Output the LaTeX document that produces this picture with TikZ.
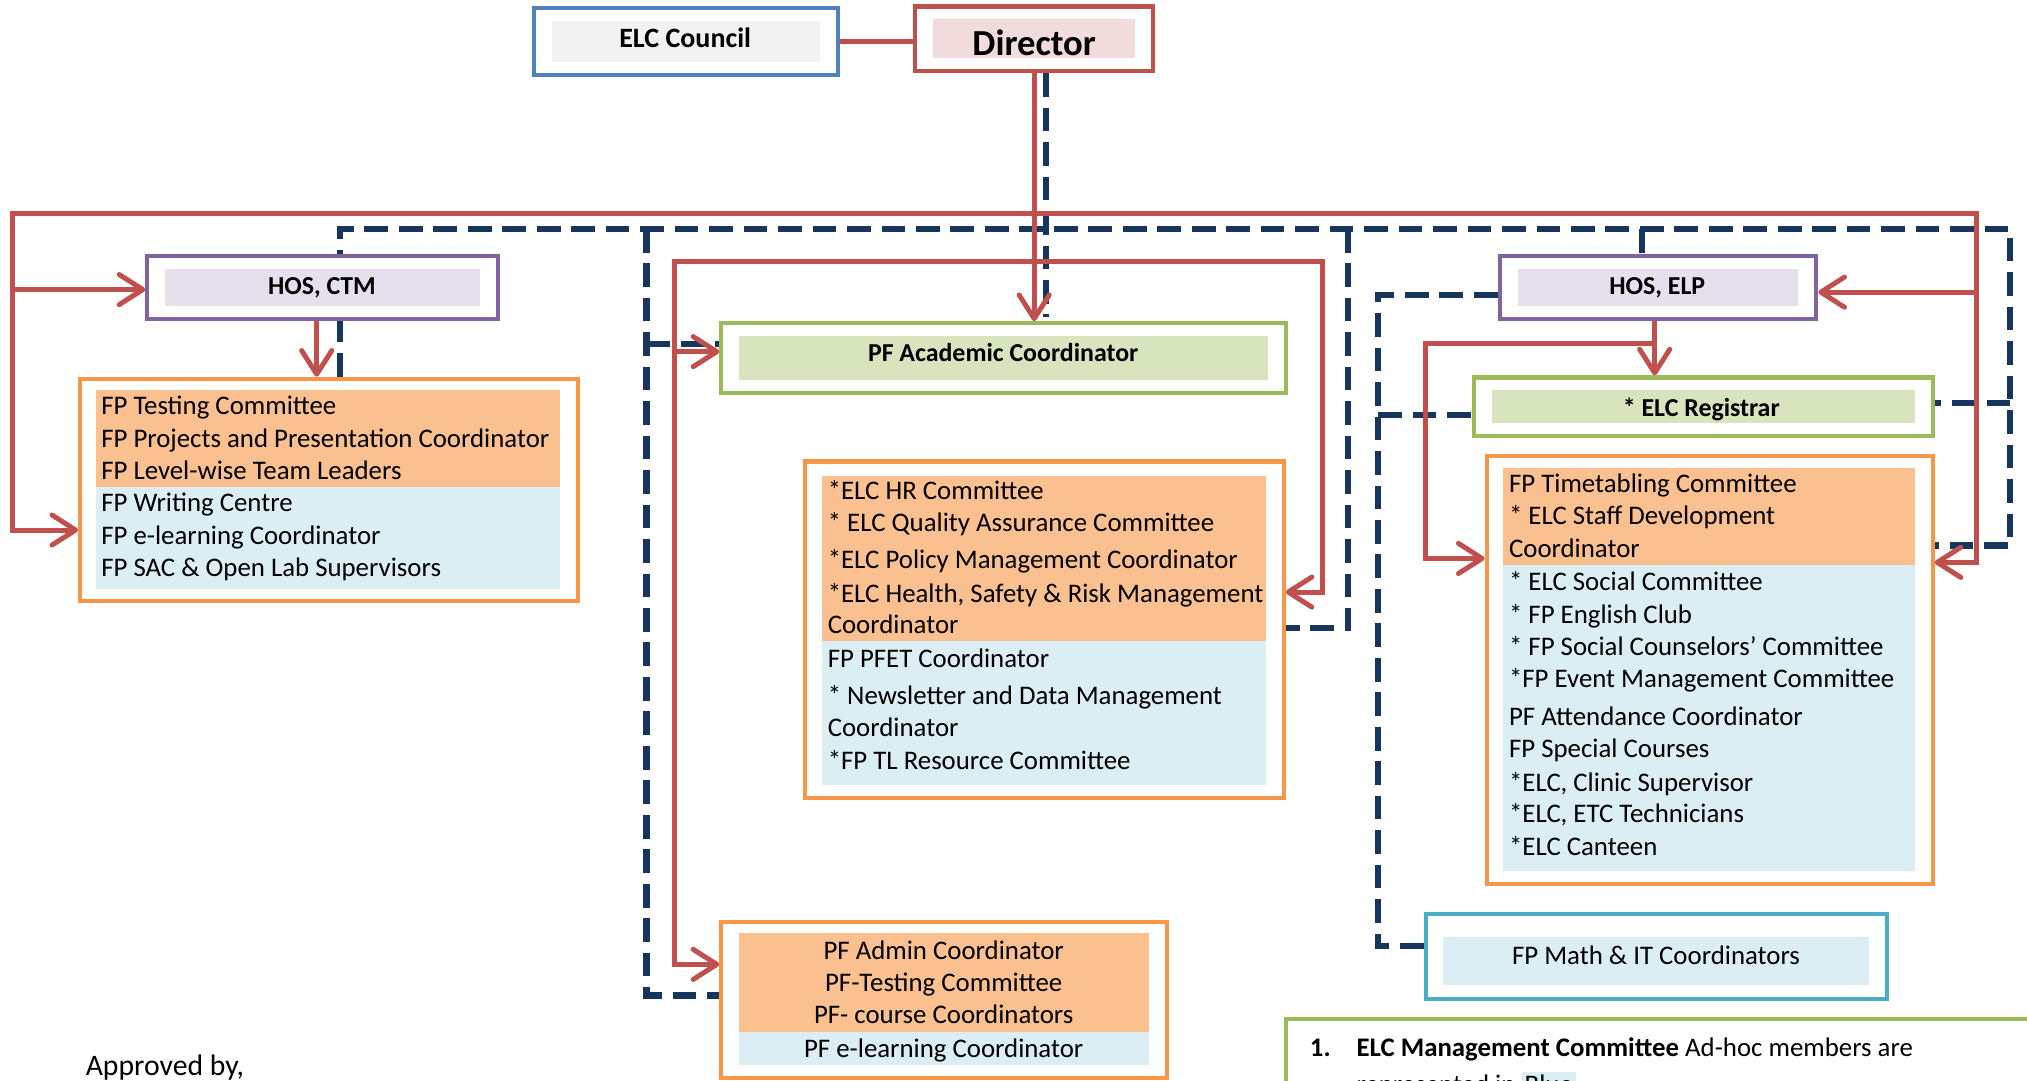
\documentclass[tikz,border=0pt]{standalone}
\usepackage{fontspec}
\setmainfont{Carlito}
\usetikzlibrary{arrows.meta,fit,backgrounds,calc}
\pgfdeclarelayer{bottom}
\pgfsetlayers{bottom,background,main}
\definecolor{cBlue}{HTML}{4F81BD}
\definecolor{cGray}{HTML}{F2F2F2}
\definecolor{cRed}{HTML}{C0504D}
\definecolor{cPink}{HTML}{F2DCDB}
\definecolor{cPurple}{HTML}{8064A2}
\definecolor{cLav}{HTML}{E5E0EC}
\definecolor{cGreen}{HTML}{9BBB59}
\definecolor{cLGreen}{HTML}{D7E4BD}
\definecolor{cOrange}{HTML}{F79646}
\definecolor{cPeach}{HTML}{FAC090}
\definecolor{cLBlue}{HTML}{DBEEF4}
\definecolor{cNavy}{HTML}{17365D}
\definecolor{cCyan}{HTML}{4BACC6}
\begin{document}
\begin{tikzpicture}[x=0.6pt,y=-0.6pt,
  box/.style={inner sep=0pt, line width=1.9pt, fill=white},
  band/.style={inner sep=0pt, draw=none},
  redln/.style={draw=cRed, line width=2.3pt},
  redarr/.style={redln, -{Straight Barb[length=11pt,width=14pt,round]}},
  navy/.style={draw=cNavy, line width=2.9pt, dash pattern=on 11pt off 5pt},
  ln/.style={anchor=base west, inner sep=0pt, font=\fontsize{12.45}{15}\selectfont},
  lnc/.style={ln, anchor=base},
  ttl/.style={anchor=base, inner sep=0pt, font=\fontsize{12}{15}\selectfont\bfseries},
]
\useasboundingbox (0,0) rectangle (1568,836);
\begin{pgfonlayer}{bottom}
\fill[white] (0,0) rectangle (1568,836);
\end{pgfonlayer}

% ---------- boxes ----------
\node[box, draw=cBlue, fit={(413,6)(648,58)}] (council) {};
\node[band, fill=cGray, fit={(427,16)(634,48)}] (councilbg) {};
\node[ttl, font=\fontsize{13}{15}\selectfont\bfseries] (councilt) at (530,37) {ELC Council};

\node[box, draw=cRed, fit={(708,5)(892,55)}] (director) {};
\node[band, fill=cPink, fit={(722,15)(878,45)}] (directorbg) {};
\node[ttl, font=\fontsize{17}{20}\selectfont\bfseries] (directort) at (800,43) {Director};

\node[box, draw=cPurple, fit={(114,198)(385,247)}] (ctm) {};
\node[band, fill=cLav, fit={(128,208)(371,237)}] (ctmbg) {};
\node[ttl] (ctmt) at (249,228) {HOS, CTM};

\node[box, draw=cOrange, fit={(62,293)(447,465)}] (fpl) {};
\node[band, fill=cPeach, fit={(74,302)(433,377)}] (fplA) {};
\node[band, fill=cLBlue, fit={(74,377)(433,456)}] (fplB) {};
\node[ln] (fpl1) at (78,321) {FP Testing Committee};
\node[ln] (fpl2) at (78,346) {FP Projects and Presentation Coordinator};
\node[ln] (fpl3) at (78,371) {FP Level-wise Team Leaders};
\node[ln] (fpl4) at (78,396) {FP Writing Centre};
\node[ln] (fpl5) at (78,421) {FP e-learning Coordinator};
\node[ln] (fpl6) at (78,446) {FP SAC \& Open Lab Supervisors};

\node[box, draw=cGreen, fit={(558,250)(995,304)}] (pfa) {};
\node[band, fill=cLGreen, fit={(572,260)(981,294)}] (pfabg) {};
\node[ttl] (pfat) at (776,280) {PF Academic Coordinator};

\node[box, draw=cOrange, fit={(623,357)(993,617)}] (cen) {};
\node[band, fill=cPeach, fit={(636,368)(979,496)}] (cenA) {};
\node[band, fill=cLBlue, fit={(636,496)(979,607)}] (cenB) {};
\node[ln] (cen1) at (640,386) {*ELC HR Committee};
\node[ln] (cen2) at (640,411) {* ELC Quality Assurance Committee};
\node[ln] (cen3) at (640,440) {*ELC Policy Management Coordinator};
\node[ln] (cen4) at (640,466) {*ELC Health, Safety \& Risk Management};
\node[ln] (cen5) at (640,490) {Coordinator};
\node[ln] (cen6) at (640,516) {FP PFET Coordinator};
\node[ln] (cen7) at (640,545) {* Newsletter and Data Management};
\node[ln] (cen8) at (640,570) {Coordinator};
\node[ln] (cen9) at (640,595) {*FP TL Resource Committee};

\node[box, draw=cOrange, fit={(558,713)(903,834)}] (adm) {};
\node[band, fill=cPeach, fit={(572,722)(889,798)}] (admA) {};
\node[band, fill=cLBlue, fit={(572,798)(889,824)}] (admB) {};
\node[lnc] (adm1) at (730,742) {PF Admin Coordinator};
\node[lnc] (adm2) at (730,767) {PF-Testing Committee};
\node[lnc] (adm3) at (730,792) {PF- course Coordinators};
\node[lnc] (adm4) at (730,818) {PF e-learning Coordinator};

\node[box, draw=cPurple, fit={(1160,198)(1405,247)}] (elp) {};
\node[band, fill=cLav, fit={(1174,208)(1391,237)}] (elpbg) {};
\node[ttl] (elpt) at (1282,228) {HOS, ELP};

\node[box, draw=cGreen, fit={(1140,292)(1495,337)}] (reg) {};
\node[band, fill=cLGreen, fit={(1154,302)(1481,327)}] (regbg) {};
\node[ttl] (regt) at (1316,322) {* ELC Registrar};

\node[box, draw=cOrange, fit={(1150,353)(1495,684)}] (rgt) {};
\node[band, fill=cPeach, fit={(1163,362)(1481,437)}] (rgtA) {};
\node[band, fill=cLBlue, fit={(1163,437)(1481,674)}] (rgtB) {};
\node[ln] (r1) at (1167,381) {FP Timetabling Committee};
\node[ln] (r2) at (1167,406) {* ELC Staff Development};
\node[ln] (r3) at (1167,431) {Coordinator};
\node[ln] (r4) at (1167,457) {* ELC Social Committee};
\node[ln] (r5) at (1167,482) {* FP English Club};
\node[ln] (r6) at (1167,507) {* FP Social Counselors’ Committee};
\node[ln] (r7) at (1167,532) {*FP Event Management Committee};
\node[ln] (r8) at (1167,561) {PF Attendance Coordinator};
\node[ln] (r9) at (1167,586) {FP Special Courses};
\node[ln] (r10) at (1167,612) {*ELC, Clinic Supervisor};
\node[ln] (r11) at (1167,636) {*ELC, ETC Technicians};
\node[ln] (r12) at (1167,662) {*ELC Canteen};

\node[box, draw=cCyan, fit={(1103,707)(1460,773)}] (math) {};
\node[band, fill=cLBlue, fit={(1116,725)(1446,762)}] (mathbg) {};
\node[lnc] (matht) at (1281,746) {FP Math \& IT Coordinators};

\node[ln, font=\fontsize{13.8}{16}\selectfont] (appr) at (66,832) {Approved by,};

\begin{scope}
\clip (0,0) rectangle (1568,836);
\node[box, draw=cGreen, fit={(995,788)(1620,900)}] (note) {};
\node[ln, font=\fontsize{12.45}{15}\selectfont\bfseries] (note1) at (1013,817) {1.};
\node[ln] (note2) at (1049,817) {\textbf{ELC Management Committee} Ad-hoc members are};
\node[ln] (note3) at (1049,846) {represented in \setlength{\fboxsep}{1.5pt}\colorbox{cLBlue}{Blue}};
\end{scope}

% ---------- connectors ----------
\begin{pgfonlayer}{background}
\coordinate (dtop) at (809,245);
\coordinate (nL) at (263,177);
\coordinate (nR) at (1555,177);
\draw[navy] (director.south -| dtop) -- (dtop);
\draw[navy] (fpl.north -| nL) -- (nL) -- (nR) -- (1555,422) -- (rgt.east |- 0,422);
\draw[navy] (500,177) -- (500,770) -- (adm.west |- 0,770);
\draw[navy] (500,266) -- (pfa.west |- 0,266);
\draw[navy] (1043,177) -- (1043,486) -- (cen.east |- 0,486);
\draw[navy] (1270,177) -- (elp.north -| 1270,0);
\draw[navy] (1555,312) -- (reg.east |- 0,312);
\draw[navy] (elp.west |- 0,228) -- (1066,228) -- (1066,732) -- (math.west |- 0,732);
\draw[navy] (1066,321) -- (reg.west |- 0,321);

\coordinate (rL) at (10,165);
\coordinate (rR) at (1529,165);
\draw[redln] (council.east |- 0,32) -- (director.west |- 0,32);
\draw[redarr] (director.south) -- (pfa.north -| director.south);
\draw[redarr] (ctm.south -| 245,0) -- (fpl.north -| 245,0);
\draw[redarr] (elp.south -| 1280,0) -- (reg.north -| 1280,0);
\draw[redarr] (rR) -- (rL) -- (10,410) -- (fpl.west |- 0,410);
\draw[redarr] (10,224) -- (ctm.west |- 0,224);
\draw[redarr] (rL) -- (rR) -- (1529,435) -- (rgt.east |- 0,435);
\draw[redarr] (1529,226) -- (elp.east |- 0,226);
\draw[redarr] (1023,202) -- (522,202) -- (522,746) -- (adm.west |- 0,746);
\draw[redarr] (522,202) -- (1023,202) -- (1023,458) -- (cen.east |- 0,458);
\draw[redarr] (522,272) -- (pfa.west |- 0,272);
\draw[redarr] (1280,266) -- (1103,266) -- (1103,432) -- (rgt.west |- 0,432);
\end{pgfonlayer}
\end{tikzpicture}
\end{document}
